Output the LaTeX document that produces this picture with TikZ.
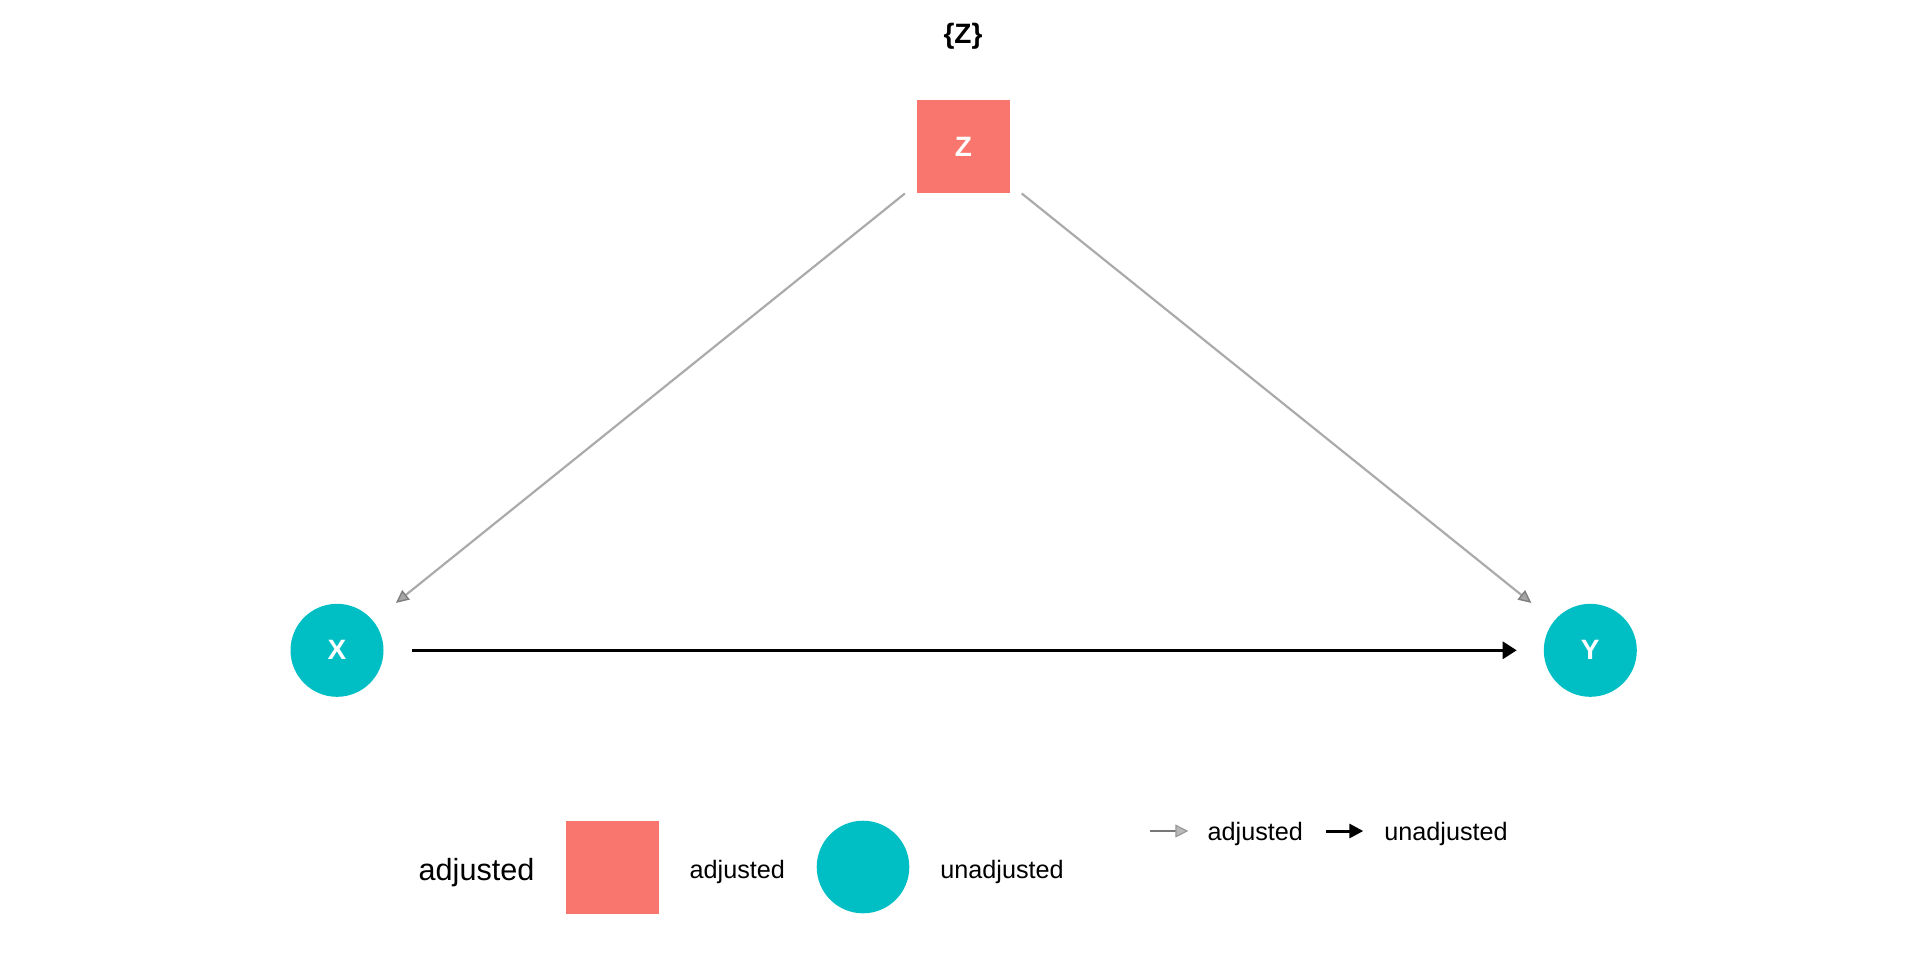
\documentclass[tikz,border=0pt]{standalone}
\usepackage{fontspec}
\setmainfont{Liberation Sans}
\usetikzlibrary{arrows.meta}
\definecolor{zred}{HTML}{F8766D}
\definecolor{zteal}{HTML}{00BFC4}
\definecolor{edgegray}{HTML}{ABABAB}
\definecolor{tipgray}{HTML}{7F7F7F}
\definecolor{leggray}{HTML}{777777}
\begin{document}
\begin{tikzpicture}[x=0.5pt,y=-0.5pt,
  nodelabel/.style={text=white, font=\fontsize{14}{14}\selectfont\bfseries, inner sep=0pt},
  adjnode/.style={nodelabel, rectangle, fill=zred, minimum size=46.5pt},
  unadjnode/.style={nodelabel, circle, fill=zteal, minimum size=46.5pt},
  adjedge/.style={draw=edgegray, line width=1.1pt, shorten <=37.5pt, shorten >=37.8pt,
    -{Triangle[length=6.5pt,width=6pt,fill=tipgray!70,color=tipgray,line width=0.7pt]}},
  unadjedge/.style={draw=black, line width=1.5pt, shorten <=37.3pt, shorten >=36.8pt,
    -{Triangle[length=7pt,width=8.5pt]}},
  legtitle/.style={font=\fontsize{15.3}{15.3}\selectfont, inner sep=0pt, anchor=base west},
  leglabel/.style={font=\fontsize{12.6}{12.6}\selectfont, inner sep=0pt, anchor=base west},
]
\useasboundingbox (0,0) rectangle (1920,960);

% title
\node[font=\fontsize{14}{14}\selectfont\bfseries, inner sep=0pt, anchor=base] (title) at (963,43.3) {\{Z\}};

% nodes
\node[adjnode] (Z) at (963.3,146.5) {Z};
\node[unadjnode] (X) at (337,650.3) {X};
\node[unadjnode] (Y) at (1590.3,650.3) {Y};

% edges
\draw[adjedge] (Z.center) -- (X.center);
\draw[adjedge] (Z.center) -- (Y.center);
\draw[unadjedge] (X.center) -- (Y.center);

% legend: node shapes
\node[legtitle] (legT) at (418.3,880) {adjusted};
\node[rectangle, fill=zred, minimum size=46.5pt, inner sep=0pt] (legSq) at (612.5,867.2) {};
\node[leglabel] (legA) at (689.3,878.3) {adjusted};
\node[circle, fill=zteal, minimum size=46.3pt, inner sep=0pt] (legCi) at (863,867) {};
\node[leglabel] (legU) at (940,878) {unadjusted};

% legend: edge types
\coordinate (ga) at (1150,831);
\coordinate (gb) at (1188.3,831);
\draw[draw=leggray, line width=1.3pt, -{Triangle[length=6.5pt,width=6.5pt,fill=tipgray!55,color=tipgray!80,line width=0.6pt]}] (ga) -- (gb);
\node[leglabel] (legEA) at (1207.3,840) {adjusted};
\coordinate (ba) at (1326,831);
\coordinate (bb) at (1363.3,831);
\draw[draw=black, line width=1.5pt, -{Triangle[length=7pt,width=7pt]}] (ba) -- (bb);
\node[leglabel] (legEU) at (1384,840) {unadjusted};
\end{tikzpicture}
\end{document}
